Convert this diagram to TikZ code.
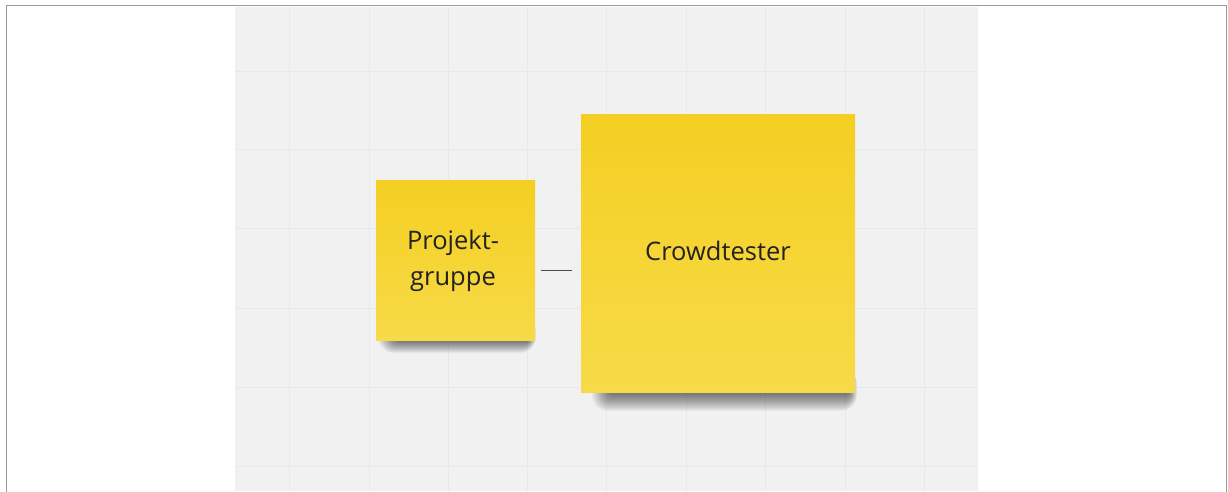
\documentclass[tikz,border=0pt]{standalone}
\usepackage{fontspec}
\setmainfont{Open Sans}
\definecolor{board}{HTML}{F1F1F1}
\definecolor{gridline}{HTML}{E8E8E8}
\definecolor{frameline}{HTML}{9A9A9A}
\definecolor{notetop}{HTML}{F4CF22}
\definecolor{notebot}{HTML}{F7DA48}
\definecolor{inktext}{HTML}{222222}
\tikzset{
  sticky/.style={draw=none, top color=notetop, bottom color=notebot, inner sep=0pt, anchor=south west},
  notetext/.style={text=inktext, font=\fontsize{25.5}{36}\selectfont, align=center, inner sep=0pt},
  link/.style={draw=black!70, line width=1pt}
}
% soft shadow band under a note: #1 = left, #2 = right, #3 = bottom edge, #4 = depth per step
\newcommand{\noteshade}[4]{%
  \foreach \k in {1,...,20}{
    \fill[black, opacity=0.035, rounded corners={\k*0.8pt}]
      ({#1+22-\k*1.1}, {#3+2-\k*#4}) rectangle ({#2-10+\k*0.45}, {#3+25});
  }%
}
\begin{document}
\begin{tikzpicture}[x=1pt, y=1pt]
  \useasboundingbox (0,0) rectangle (1228,491);
  \fill[white] (0,0) rectangle (1228,491);
  % whiteboard canvas with its grid
  \fill[board] (235,0) rectangle (978,484);
  \foreach \gx in {289,369,448,527,606,686,765,845,924}
    \draw[gridline, line width=1pt] (\gx,0) -- (\gx,484);
  \foreach \gy in {25,104,183,263,342,419}
    \draw[gridline, line width=1pt] (235,\gy) -- (978,\gy);
  % outer frame
  \draw[frameline, line width=1.6pt] (6.5,-5) -- (6.5,485.5) -- (1226.5,485.5) -- (1226.5,-5);
  % soft shadows under the notes
  \noteshade{378}{537}{150}{0.7}
  \noteshade{592}{858}{98}{1.0}
  % sticky notes
  \node[sticky, minimum width=159pt, minimum height=160pt] (proj) at (376,150) {};
  \node[sticky, minimum width=274pt, minimum height=278pt] (crowd) at (581,98) {};
  \node[notetext] (projlabel) at (453,230) {Projekt-\\gruppe};
  \node[notetext] (crowdlabel) at (718,240) {Crowdtester};
  % connector between the notes
  \draw[link, shorten <=6pt, shorten >=9pt] (proj.east |- 0,221) -- (crowd.west |- 0,221);
\end{tikzpicture}
\end{document}
